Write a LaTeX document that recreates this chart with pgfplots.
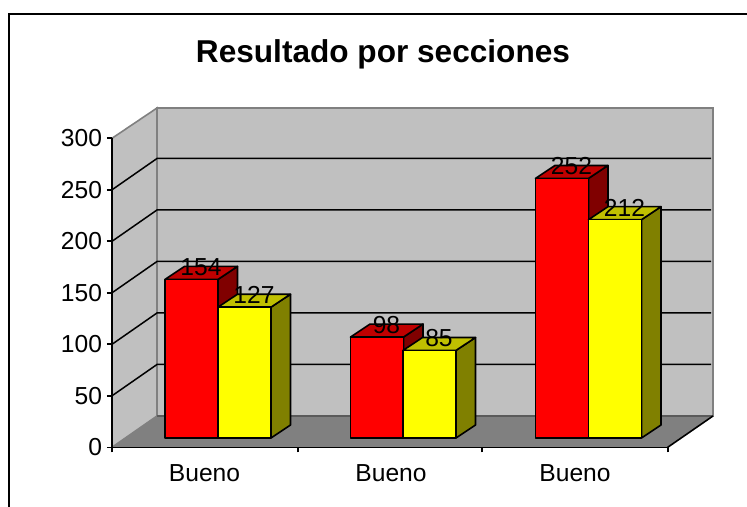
\documentclass[border=0pt]{standalone}
\usepackage{pgfplots}
\pgfplotsset{compat=1.18}
\usepackage{fontspec}
\setmainfont{Liberation Sans}
\definecolor{wall}{HTML}{C0C0C0}
\definecolor{floorc}{HTML}{808080}
\definecolor{redfront}{HTML}{FF0000}
\definecolor{yelfront}{HTML}{FFFF00}
\definecolor{redtop}{HTML}{C00000}
\definecolor{redside}{HTML}{800000}
\definecolor{yeltop}{HTML}{C0C000}
\definecolor{yelside}{HTML}{808000}
\newcommand{\lab}{\fontsize{24.6bp}{28bp}\selectfont}
\pgfplotsset{
  face/.style={draw=black,line width=1.6bp,line join=round},
  front/.style={ybar,bar width=53,bar shift=0pt,face,yshift=9.3bp,
    nodes near coords,
    every node near coord/.append style={anchor=center,xshift=9.5bp,yshift=12bp,font=\lab,text=black,inner sep=0pt}},
  bface/.style={face,yshift=9.3bp},
  grid3d/.style={black,line width=1.5bp},
}
\begin{document}
\begin{tikzpicture}
\useasboundingbox (-112bp,-59.7bp) rectangle (635bp,447.3bp);
\begin{axis}[
  anchor=origin,
  at={(0,0)},
  x=1bp,y=1.03bp,
  xmin=112,xmax=667.7,ymin=0,ymax=300,
  clip=false,
  axis on top,
  axis x line*=bottom,
  axis y line*=left,
  axis line style={line width=1.6bp,black,-},
  x tick style={black,line width=1.6bp},
  y tick style={black,line width=1.6bp},
  tick align=outside,
  major tick length=5bp,
  ytick={0,50,100,150,200,250,300},
  xtick={112,297.7,481.7,667.7},
  xticklabels={},
  extra x ticks={204.5,391,575},
  extra x tick labels={Bueno,Bueno,Bueno},
  extra x tick style={major tick length=0pt,tick style={draw=none},
    xticklabel style={font=\lab,yshift=-14bp}},
  yticklabel style={font=\lab,xshift=-1.5bp},
  /pgf/number format/assume math mode=true,
]
% walls and floor
\addplot[fill=wall,draw=floorc,line width=1.6bp] coordinates {(157,30.4)(713,30.4)(713,329.4)(157,329.4)} --cycle;
\addplot[fill=wall,draw=floorc,line width=1.6bp] coordinates {(112,0)(157,30.4)(157,329.4)(112,300)} --cycle;
\addplot[fill=floorc,draw=none] coordinates {(112,0)(157,30.4)(713,30.4)(667.7,0)} --cycle;
\addplot[floorc!70!black,line width=1.4bp] coordinates {(157,30.4)(713,30.4)};
\addplot[black,line width=1.6bp] coordinates {(667.7,0)(713,30.4)};
% gridlines
\addplot[grid3d] coordinates {(112,50)(157,80.4)(711,80.4)};
\addplot[grid3d] coordinates {(112,100)(157,130.4)(711,130.4)};
\addplot[grid3d] coordinates {(112,150)(157,180.4)(711,180.4)};
\addplot[grid3d] coordinates {(112,200)(157,230.4)(711,230.4)};
\addplot[grid3d] coordinates {(112,250)(157,280.4)(711,280.4)};
% red series
\addplot[bface,fill=redside] coordinates {(218,0)(237.5,12.6)(237.5,166.6)(218,154)} --cycle;
\addplot[bface,fill=redtop] coordinates {(165,154)(184.5,166.6)(237.5,166.6)(218,154)} --cycle;
\addplot[bface,fill=redside] coordinates {(403.5,0)(423,12.6)(423,110.6)(403.5,98)} --cycle;
\addplot[bface,fill=redtop] coordinates {(350.5,98)(370,110.6)(423,110.6)(403.5,98)} --cycle;
\addplot[bface,fill=redside] coordinates {(588.5,0)(608,12.6)(608,264.6)(588.5,252)} --cycle;
\addplot[bface,fill=redtop] coordinates {(535.5,252)(555,264.6)(608,264.6)(588.5,252)} --cycle;
\addplot[front,fill=redfront] coordinates {(191.5,154)(377,98)(562,252)};
% yellow series
\addplot[bface,fill=yelside] coordinates {(271,0)(290.5,12.6)(290.5,139.6)(271,127)} --cycle;
\addplot[bface,fill=yeltop] coordinates {(218,127)(237.5,139.6)(290.5,139.6)(271,127)} --cycle;
\addplot[bface,fill=yelside] coordinates {(456,0)(475.5,12.6)(475.5,97.6)(456,85)} --cycle;
\addplot[bface,fill=yeltop] coordinates {(403,85)(422.5,97.6)(475.5,97.6)(456,85)} --cycle;
\addplot[bface,fill=yelside] coordinates {(641.5,0)(661,12.6)(661,224.6)(641.5,212)} --cycle;
\addplot[bface,fill=yeltop] coordinates {(588.5,212)(608,224.6)(661,224.6)(641.5,212)} --cycle;
\addplot[front,fill=yelfront] coordinates {(244.5,127)(429.5,85)(615,212)};
% outer frame
\addplot[black,line width=2bp] coordinates {(9,-58)(9,420.7)(747,420.7)};
\node[font=\bfseries\fontsize{31.6bp}{36bp}\selectfont,anchor=center] at (axis cs:383,382) {Resultado por secciones};
\end{axis}
\end{tikzpicture}
\end{document}
